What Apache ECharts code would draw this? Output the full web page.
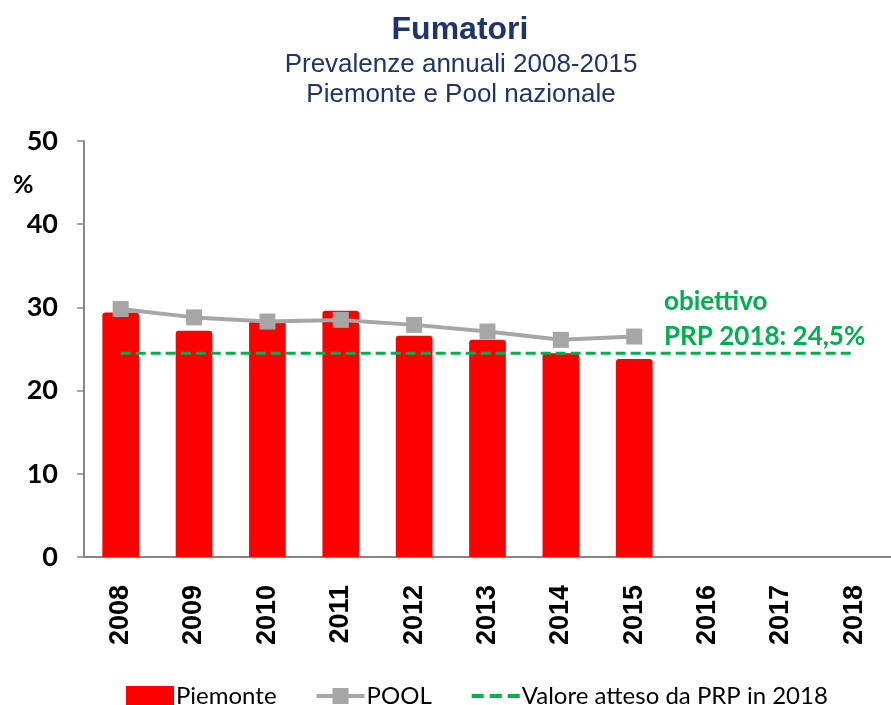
<!DOCTYPE html>
<html>
<head>
<meta charset="utf-8">
<script src="https://cdn.jsdelivr.net/npm/echarts@6/dist/echarts.min.js"></script>
<style>
html,body{margin:0;padding:0;background:#fff;}
#c{width:891px;height:705px;}
</style>
</head>
<body>
<div id="c"></div>
<script>
var years = ['2008','2009','2010','2011','2012','2013','2014','2015','2016','2017','2018'];
var piemonte = [29.4, 27.2, 28.4, 29.6, 26.6, 26.1, 24.5, 23.8, null, null, null];
var pool = [29.8, 28.8, 28.3, 28.5, 27.9, 27.1, 26.1, 26.5, null, null, null];
var target = [24.5, 24.5, 24.5, 24.5, 24.5, 24.5, 24.5, 24.5, 24.5, 24.5, 24.5];
var yTicks = [0, 10, 20, 30, 40, 50];

var navy = '#1F3468';
var green = '#00B050';
var axisGray = '#868686';

var chart = echarts.init(document.getElementById('c'), null, {renderer: 'canvas'});
chart.setOption({
  animation: false,
  backgroundColor: '#ffffff',
  grid: {left: 84, top: 141, bottom: 148, right: -10, containLabel: false},
  legend: {
    left: 121, top: 679,
    itemWidth: 48, itemHeight: 20, itemGap: 38,
    textStyle: {fontFamily: 'Lato', fontSize: 24, color: '#000', padding: [0,0,0,-3]},
    data: [
      {name: 'Piemonte', icon: 'rect'},
      {name: 'POOL', lineStyle: {width: 4, color: '#A6A6A6'}},
      {name: 'Valore atteso da PRP in 2018', itemStyle: {opacity: 0, borderWidth: 0},
       lineStyle: {type: [12,6], width: 4, color: green}}
    ]
  },
  xAxis: {
    type: 'category',
    data: years,
    axisLine: {lineStyle: {color: axisGray, width: 2}},
    axisTick: {show: false},
    axisLabel: {rotate: 90, margin: 28, interval: 0, fontFamily: 'Liberation Sans, Arial', fontWeight: 'bold', fontSize: 27, color: '#000'}
  },
  yAxis: {
    type: 'value', min: 0, max: 50, interval: 10,
    axisLine: {show: true, lineStyle: {color: axisGray, width: 2}},
    axisTick: {show: true, length: 7, lineStyle: {color: axisGray, width: 1.5}},
    splitLine: {show: false},
    axisLabel: {margin: 26, fontFamily: 'Lato', fontWeight: 'bold', fontSize: 27, color: '#000',
      formatter: function(v){ return yTicks.indexOf(v) >= 0 ? String(v) : ''; }}
  },
  graphic: [
    {type: 'text', x: 460, y: 14, style: {text: 'Fumatori', align: 'center', verticalAlign: 'top',
      font: 'bold 32px "Liberation Sans", Arial', fill: navy}},
    {type: 'text', x: 461, y: 50, style: {text: 'Prevalenze annuali 2008-2015\nPiemonte e Pool nazionale',
      align: 'center', verticalAlign: 'top', lineHeight: 30,
      font: '26px "Liberation Sans", Arial', fill: navy}},
    {type: 'text', left: 13, top: 172, style: {text: '%', font: 'bold 25px Lato', fill: '#000'}},
    {type: 'text', left: 664, top: 289, style: {text: 'obiettivo', font: 'bold 26px Lato', fill: green}},
    {type: 'text', left: 664, top: 324, style: {text: 'PRP 2018: 24,5%', font: 'bold 26px Lato', fill: green}}
  ],
  series: [
    {name: 'Piemonte', type: 'bar', data: piemonte, barWidth: '50%', z: 1,
     itemStyle: {color: '#FF0000', borderRadius: [3,3,0,0]}},
    {name: 'Valore atteso da PRP in 2018', type: 'line', data: target, symbol: 'none', z: 3,
     lineStyle: {color: green, width: 3, type: [10,5]}, itemStyle: {color: green}},
    {name: 'POOL', type: 'line', data: pool, symbol: 'rect', symbolSize: 16, z: 4,
     lineStyle: {color: '#A6A6A6', width: 4}, itemStyle: {color: '#A6A6A6'}}
  ]
});
</script>
</body>
</html>
